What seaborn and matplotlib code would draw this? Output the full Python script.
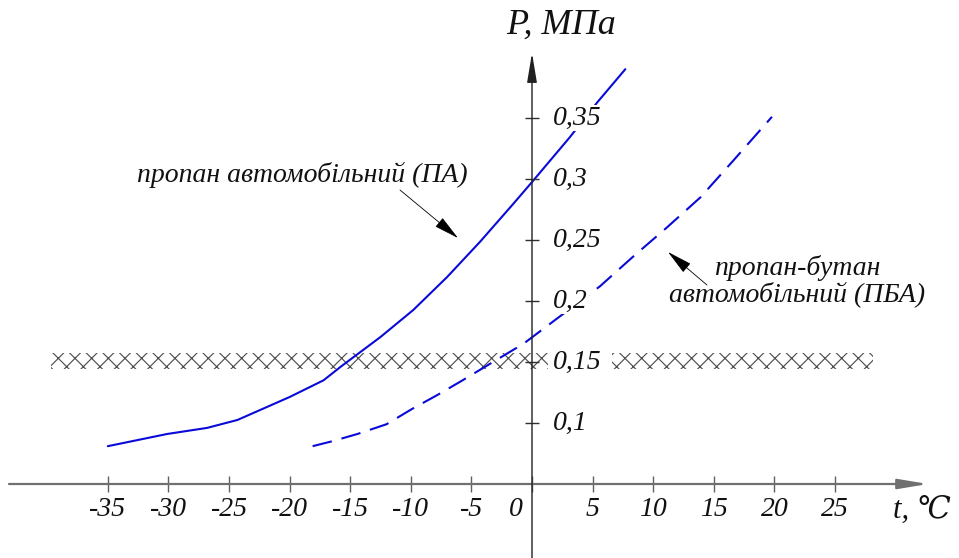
import pandas as pd
import seaborn as sns
import matplotlib.pyplot as plt

# propane (ПА): temperature, C and pressure, MPa
t_pa = [-35, -30.1, -26.8, -24.3, -20, -17.2, -15.8, -12.5, -9.8, -7.0, -4.3, -1.6, 0, 3.1, 5.4, 7.7]
p_pa = [0.081, 0.091, 0.096, 0.1025, 0.1213, 0.135, 0.146, 0.1705, 0.1926, 0.2197, 0.2484, 0.279, 0.2975, 0.334, 0.363, 0.390]

# propane-butane (ПБА)
t_pba = [-18.1, -16.5, -14.4, -12.0, -9.9, -7.8, -5.9, -0.7, 5.6, 8.3, 11.1, 13.9, 16.6, 19.8]
p_pba = [0.081, 0.085, 0.091, 0.099, 0.1115, 0.123, 0.134, 0.165, 0.212, 0.236, 0.260, 0.285, 0.315, 0.351]

# hatched band around 0.15 MPa
band_p = [0.144, 0.157]
band_left = [-39.7, 1.3]
band_right = [6.6, 28.1]

x_ticks = [-35, -30, -25, -20, -15, -10, -5, 0, 5, 10, 15, 20, 25]
y_ticks = [0.1, 0.15, 0.2, 0.25, 0.3, 0.35]
y_labels = ["0,1", "0,15", "0,2", "0,25", "0,3", "0,35"]

df_pa = pd.DataFrame({"t": t_pa, "p": p_pa})
df_pba = pd.DataFrame({"t": t_pba, "p": p_pba})

sns.set_theme(style="white")
plt.rcParams["font.family"] = ["Liberation Serif", "DejaVu Serif"]
plt.rcParams["hatch.linewidth"] = 0.85
plt.rcParams["hatch.color"] = "#505050"

W, H = 959, 558
x0, y0 = 532, 484      # pixel position of (0 C, 0.05 MPa)
kx, ky = 12.12, 1220.0  # pixels per degree / per MPa
p_axis = 0.05


def px_t(px):
    return (px - x0) / kx


def px_p(py):
    return p_axis + (y0 - py) / ky


fig = plt.figure(figsize=(W / 100, H / 100), dpi=100)
ax = fig.add_axes([0, 0, 1, 1])
ax.set_xlim(px_t(0), px_t(W))
ax.set_ylim(px_p(H), px_p(0))
ax.axis("off")

blue = "#0a0ad8"
sns.lineplot(data=df_pa, x="t", y="p", ax=ax, color=blue, lw=1.5, sort=False)
sns.lineplot(data=df_pba, x="t", y="p", ax=ax, color=blue, lw=1.5, sort=False,
             linestyle=(0, (9.5, 4.8)))

for xs in (band_left, band_right):
    ax.fill_between(xs, band_p[0], band_p[1], facecolor="none",
                    edgecolor="#505050", hatch="xx", linewidth=0)

# axes with arrows
ax.annotate("", xy=(px_t(928), p_axis), xytext=(px_t(9), p_axis),
            arrowprops=dict(arrowstyle="-|>,head_length=0.9,head_width=0.15",
                            mutation_scale=20, color="#707070", lw=1.6,
                            shrinkA=0, shrinkB=0))
ax.annotate("", xy=(0, px_p(53)), xytext=(0, px_p(H)),
            arrowprops=dict(arrowstyle="-|>,head_length=0.9,head_width=0.15",
                            mutation_scale=20, color="#202020", lw=1.0,
                            shrinkA=0, shrinkB=0))

ax.vlines(x_ticks, p_axis - 8 / ky, p_axis + 8 / ky, color="#606060", lw=1.0)
ax.hlines(y_ticks, -7 / kx, 7 / kx, color="#303030", lw=1.0)

lab = dict(fontsize=20, style="italic", color="#111111")
for t in x_ticks:
    tx = t - 1.3 if t == 0 else t
    ax.text(tx, p_axis - 26 / ky, str(t), ha="center", va="center", **lab)
for p, s in zip(y_ticks, y_labels):
    ax.text(px_t(553), p, s, ha="left", va="center",
            bbox=dict(facecolor="white", edgecolor="none", pad=0.5), **lab)

ax.text(px_t(506), px_p(25), "P, МПа", ha="left", va="center", fontsize=26,
        style="italic", color="#111111")
ax.text(px_t(893), px_p(510), "t, ℃", ha="left", va="center", fontsize=22,
        style="italic", color="#111111")

note = dict(fontsize=20, style="italic", color="#111111")
ax.text(px_t(302), px_p(175), "пропан автомобільний (ПА)",
        ha="center", va="center", **note)
ax.text(px_t(797), px_p(282), "пропан-бутан\nавтомобільний (ПБА)",
        ha="center", va="center", multialignment="center",
        linespacing=1.05, **note)

arrow = dict(arrowstyle="-|>,head_length=0.8,head_width=0.18",
             mutation_scale=20, color="black", lw=0.6, shrinkA=0, shrinkB=0)
ax.annotate("", xy=(px_t(458), px_p(238)), xytext=(px_t(400), px_p(190)),
            arrowprops=arrow)
ax.annotate("", xy=(px_t(668), px_p(252)), xytext=(px_t(707), px_p(285)),
            arrowprops=arrow)

fig.savefig("out.png", dpi=100, facecolor="white")
